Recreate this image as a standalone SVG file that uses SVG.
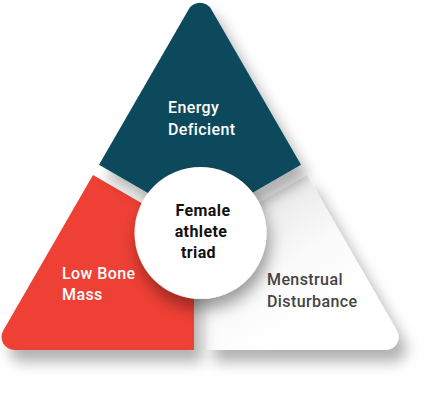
<svg xmlns="http://www.w3.org/2000/svg" width="430" height="400" viewBox="0 0 430 400">
  <style>
    .lbl { font-family: Roboto, "Liberation Sans", sans-serif; font-weight: 500; font-size: 16px; letter-spacing: 0.4px; }
    .w { fill: #ffffff; }
    .g { fill: #444444; }
    .k { fill: #111111; font-weight: 700; }
  </style>
  <defs>
    <filter id="sh" x="-30%" y="-30%" width="170%" height="170%">
      <feDropShadow dx="8" dy="12" stdDeviation="7" flood-color="#000" flood-opacity="0.3"/>
    </filter>
    <filter id="shc" x="-40%" y="-40%" width="180%" height="190%">
      <feDropShadow dx="3" dy="10" stdDeviation="8" flood-color="#000" flood-opacity="0.38"/>
    </filter>
    <linearGradient id="wg" gradientUnits="userSpaceOnUse" x1="215" y1="200" x2="300" y2="330">
      <stop offset="0" stop-color="#e2e2e2"/>
      <stop offset="0.6" stop-color="#fafafa"/>
      <stop offset="1" stop-color="#ffffff"/>
    </linearGradient>
  </defs>
  <rect width="430" height="400" fill="#ffffff"/>
  <g id="node-menstrual">
    <path filter="url(#sh)" fill="url(#wg)" d="M 307 175.05 L 396.75 330.5 A 13 13 0 0 1 385.5 350 L 206 350 L 206 233.4 Z"/>
    <text class="lbl g" x="267" y="285">Menstrual</text>
    <text class="lbl g" x="267" y="307">Disturbance</text>
  </g>
  <g id="node-bone">
    <path filter="url(#sh)" fill="#ef4036" d="M 93 175.05 L 194 233.4 L 194 350 L 14.5 350 A 13 13 0 0 1 3.25 330.5 Z"/>
    <text class="lbl w" x="62" y="279">Low Bone</text>
    <text class="lbl w" x="62" y="300">Mass</text>
  </g>
  <g id="node-energy">
    <path filter="url(#sh)" fill="#0b4a5c" d="M 188.75 9.2 A 13 13 0 0 1 211.25 9.2 L 301 164.65 L 200 223 L 99 164.65 Z"/>
    <text class="lbl w" x="168" y="113">Energy</text>
    <text class="lbl w" x="168" y="135">Deficient</text>
  </g>
  <g id="connectors"></g>
  <g id="node-center">
    <circle filter="url(#shc)" cx="200.5" cy="233" r="66" fill="#ffffff"/>
    <text class="lbl k" x="203" y="216" text-anchor="middle">Female</text>
    <text class="lbl k" x="201" y="237" text-anchor="middle">athlete</text>
    <text class="lbl k" x="198.5" y="258" text-anchor="middle">triad</text>
  </g>
</svg>
